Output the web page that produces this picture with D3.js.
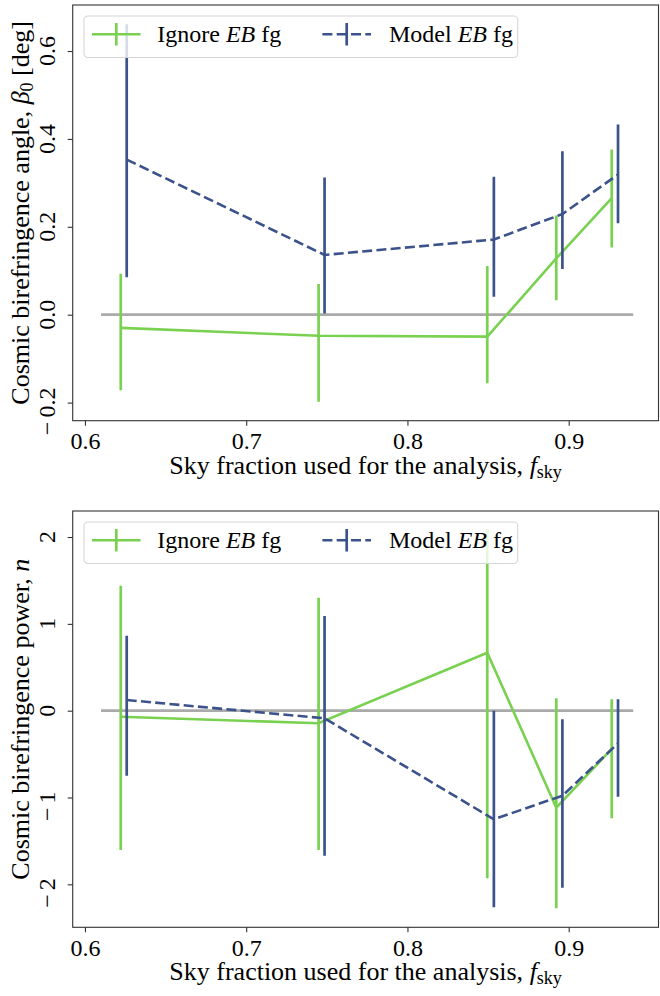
<!DOCTYPE html>
<html>
<head>
<meta charset="utf-8">
<script src="https://cdn.jsdelivr.net/npm/d3@7"></script>
<style>
  html, body { margin: 0; padding: 0; background: #fff; }
</style>
</head>
<body>
<svg id="chart" width="660" height="996"></svg>
<script>
// ---------- data ----------
const fskyIgnore = [0.6222, 0.7449, 0.8495, 0.8923, 0.9267];
const fskyModel  = [0.6259, 0.7486, 0.8536, 0.8961, 0.9306];

const betaIgnore   = [-0.030, -0.048, -0.050, 0.128, 0.265];
const betaIgnoreLo = [-0.172, -0.198, -0.156, 0.033, 0.153];
const betaIgnoreHi = [0.093, 0.070, 0.111, 0.226, 0.376];
const betaModel    = [0.353, 0.136, 0.171, 0.229, 0.319];
const betaModelLo  = [0.085, 0.003, 0.041, 0.104, 0.208];
const betaModelHi  = [0.661, 0.312, 0.314, 0.372, 0.433];

const nIgnore   = [-0.069, -0.145, 0.668, -1.117, -0.440];
const nIgnoreLo = [-1.605, -1.605, -1.930, -2.276, -1.240];
const nIgnoreHi = [1.440, 1.300, 2.090, 0.143, 0.131];
const nModel    = [0.123, -0.088, -1.251, -0.979, -0.376];
const nModelLo  = [-0.749, -1.670, -2.265, -2.040, -0.990];
const nModelHi  = [0.864, 1.090, 0.000, -0.099, 0.131];

const xTicks = [0.6, 0.7, 0.8, 0.9];
const xTickLabels = ["0.6", "0.7", "0.8", "0.9"];
const betaTicks = [-0.2, 0.0, 0.2, 0.4, 0.6];
const betaTickLabels = ["−0.2", "0.0", "0.2", "0.4", "0.6"];
const nTicks = [-2, -1, 0, 1, 2];
const nTickLabels = ["−2", "−1", "0", "1", "2"];
const refLineX = [0.61, 0.94];
const seriesNames = ["Ignore", "Model"];

// ---------- style ----------
const GREEN = "#7ad151";
const BLUE = "#3b528b";
const GRAY = "#aaaaaa";
const FS = 24;      // ticks & legend
const LFS = 26;     // axis labels
const SUB = 18;     // subscripts
const DASH = "10,4.3";
const FONT = '"Liberation Serif"';

const svg = d3.select("#chart");

function panel(cfg) {
  const L = 72.7, R = 658.5, T = cfg.top, B = cfg.bottom;
  const x = d3.scaleLinear().domain([0.5924, 0.9557]).range([L, R]);
  const y = d3.scaleLinear().domain(cfg.ydom).range([B, T]);
  const g = svg.append("g");

  const clipId = "clip" + cfg.id;
  svg.append("clipPath").attr("id", clipId)
    .append("rect").attr("x", L).attr("y", T).attr("width", R - L).attr("height", B - T);
  const plot = g.append("g").attr("clip-path", `url(#${clipId})`);

  plot.append("line")
    .attr("x1", x(refLineX[0])).attr("x2", x(refLineX[1]))
    .attr("y1", y(0)).attr("y2", y(0))
    .attr("stroke", GRAY).attr("stroke-width", 2.7);

  const series = [
    { xs: fskyIgnore, v: cfg.ign, lo: cfg.ignLo, hi: cfg.ignHi, color: GREEN, dash: null },
    { xs: fskyModel, v: cfg.mod, lo: cfg.modLo, hi: cfg.modHi, color: BLUE, dash: DASH }
  ];
  series.forEach(s => {
    const idx = d3.range(s.v.length);
    plot.append("path")
      .attr("d", d3.line().x(i => x(s.xs[i])).y(i => y(s.v[i]))(idx))
      .attr("fill", "none").attr("stroke", s.color).attr("stroke-width", 2.6)
      .attr("stroke-dasharray", s.dash);
    plot.selectAll(null).data(idx).enter().append("line")
      .attr("x1", i => x(s.xs[i])).attr("x2", i => x(s.xs[i]))
      .attr("y1", i => y(s.lo[i])).attr("y2", i => y(s.hi[i]))
      .attr("stroke", s.color).attr("stroke-width", 2.7);
  });

  g.append("rect").attr("x", L).attr("y", T).attr("width", R - L).attr("height", B - T)
    .attr("fill", "none").attr("stroke", "#333").attr("stroke-width", 1.1);

  const xa = g.append("g").attr("transform", `translate(0,${B})`)
    .call(d3.axisBottom(x).tickValues(xTicks).tickSize(5).tickFormat((d, i) => xTickLabels[i]));
  xa.select(".domain").remove();
  xa.selectAll(".tick line").attr("stroke", "#333").attr("stroke-width", 1.1);
  xa.selectAll(".tick text").attr("font-size", FS).attr("dy", null).attr("y", 28.6)
    .attr("fill", "#000");

  const ya = g.append("g").attr("transform", `translate(${L},0)`)
    .call(d3.axisLeft(y).tickValues(cfg.yticks).tickSize(5).tickFormat(""));
  ya.select(".domain").remove();
  ya.selectAll(".tick line").attr("stroke", "#333").attr("stroke-width", 1.1);

  cfg.yticks.forEach((t, i) => {
    const lab = cfg.ylabels[i];
    const neg = lab.startsWith("−");
    const digits = neg ? lab.slice(1) : lab;
    const tg = g.append("g").attr("transform", `translate(54.8,${y(t)}) rotate(-90)`);
    const dt = tg.append("text").attr("text-anchor", "middle").attr("font-size", FS)
      .style("font-family", FONT).text(digits);
    if (neg) {
      const w = dt.node().getComputedTextLength();
      tg.append("text").attr("text-anchor", "end").attr("font-size", FS)
        .attr("x", -w / 2 - 4).text("−");
    }
  });

  const xl = g.append("text").attr("x", (L + R) / 2).attr("y", B + 53)
    .attr("text-anchor", "middle").attr("font-size", LFS);
  xl.append("tspan").text("Sky fraction used for the analysis, ");
  xl.append("tspan").attr("font-style", "italic").text("f");
  xl.append("tspan").attr("font-size", SUB).attr("dy", 4).text("sky");

  const yl = g.append("text")
    .attr("transform", `translate(28.5,${(T + B) / 2}) rotate(-90)`)
    .attr("text-anchor", "middle").attr("font-size", LFS);
  cfg.ylabel(yl);

  const lg = g.append("g").attr("transform", `translate(84,${T + 11})`);
  lg.append("rect").attr("width", 433.7).attr("height", 41.5).attr("rx", 4)
    .attr("fill", "#fff").attr("fill-opacity", 0.8)
    .attr("stroke", "#d6d6d6").attr("stroke-width", 1.1);
  const items = [
    { cx: 32.3, color: GREEN, dash: null, tx: 73.3, name: seriesNames[0] },
    { cx: 262.7, color: BLUE, dash: DASH, tx: 305, name: seriesNames[1] }
  ];
  items.forEach(it => {
    lg.append("line").attr("x1", it.cx - 24.3).attr("x2", it.cx + 24.3)
      .attr("y1", 18.3).attr("y2", 18.3)
      .attr("stroke", it.color).attr("stroke-width", 2.6).attr("stroke-dasharray", it.dash);
    lg.append("line").attr("x1", it.cx).attr("x2", it.cx)
      .attr("y1", 7).attr("y2", 29.5)
      .attr("stroke", it.color).attr("stroke-width", 2.7);
    const t = lg.append("text").attr("x", it.tx).attr("y", 26).attr("font-size", FS);
    t.append("tspan").text(it.name + " ");
    t.append("tspan").attr("font-style", "italic").text("EB");
    t.append("tspan").text(" fg");
  });

  g.selectAll("text, tspan").style("font-family", FONT);
  g.selectAll("g").attr("font-family", null);
}

panel({
  id: "top", top: 5, bottom: 420.7, ydom: [-0.2412, 0.7047],
  yticks: betaTicks, ylabels: betaTickLabels,
  ign: betaIgnore, ignLo: betaIgnoreLo, ignHi: betaIgnoreHi,
  mod: betaModel, modLo: betaModelLo, modHi: betaModelHi,
  ylabel: t => {
    t.append("tspan").text("Cosmic birefringence angle, ");
    t.append("tspan").attr("font-style", "italic").text("β");
    t.append("tspan").attr("font-size", SUB).attr("dy", 4).text("0");
    t.append("tspan").attr("dy", -4).text(" [deg]");
  }
});

panel({
  id: "bot", top: 511, bottom: 927.3, ydom: [-2.495, 2.30],
  yticks: nTicks, ylabels: nTickLabels,
  ign: nIgnore, ignLo: nIgnoreLo, ignHi: nIgnoreHi,
  mod: nModel, modLo: nModelLo, modHi: nModelHi,
  ylabel: t => {
    t.append("tspan").text("Cosmic birefringence power, ");
    t.append("tspan").attr("font-style", "italic").text("n");
  }
});
</script>
</body>
</html>
